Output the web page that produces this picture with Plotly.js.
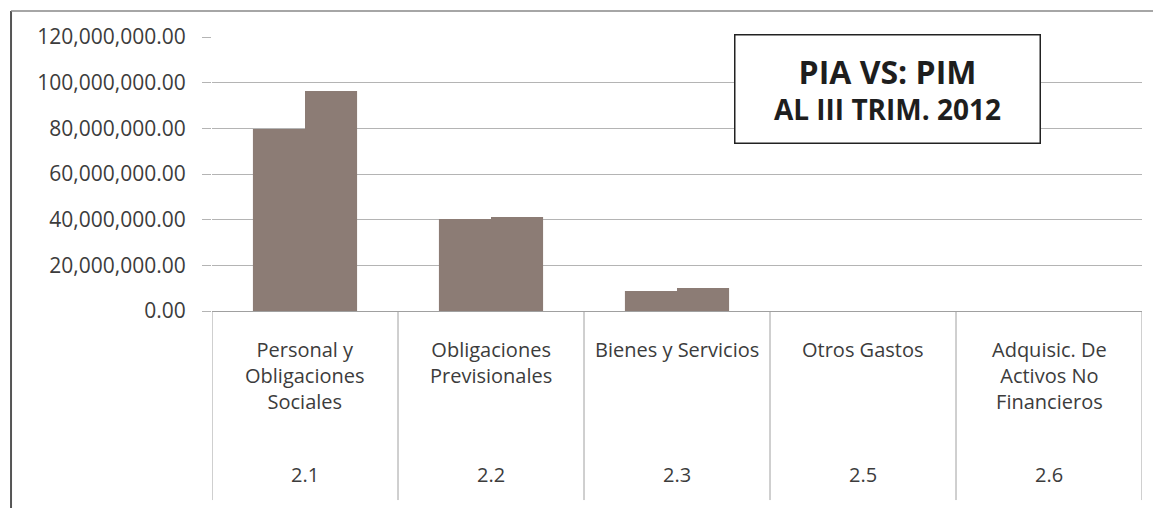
<!DOCTYPE html>
<html>
<head>
<meta charset="utf-8">
<script src="https://cdn.plot.ly/plotly-3.0.1.min.js"></script>
<style>html,body{margin:0;padding:0;background:#fff;}#chart{width:1153px;height:508px;}</style>
</head>
<body>
<div id="chart"></div>
<script>
var categoryNames = ["Personal y<br>Obligaciones<br>Sociales", "Obligaciones<br>Previsionales", "Bienes y Servicios", "Otros Gastos", "Adquisic. De<br>Activos No<br>Financieros"];
var categoryCodes = ["2.1", "2.2", "2.3", "2.5", "2.6"];
var piaValues = [79700000, 40300000, 8800000, 0, 0];
var pimValues = [96400000, 41200000, 10100000, 0, 0];
var yTicks = [0, 20000000, 40000000, 60000000, 80000000, 100000000, 120000000];

var xIdx = categoryCodes.map(function(_, i){ return i; });
var barColor = "rgb(140,124,117)";
var gridColor = "#b4b4b4";
var textColor = "#3c3c3c";
var fontFam = "Open Sans, Lato, sans-serif";

var traces = [
  {type: "bar", name: "PIA", x: xIdx, y: piaValues, marker: {color: barColor}, hoverinfo: "y"},
  {type: "bar", name: "PIM", x: xIdx, y: pimValues, marker: {color: barColor}, hoverinfo: "y"}
];

var shapes = [];
for (var i = 0; i <= categoryCodes.length; i++) {
  shapes.push({type: "line", xref: "x", yref: "paper", x0: i - 0.5, x1: i - 0.5, y0: 0, y1: -0.69,
    line: {color: "#a0a0a0", width: 1}});
}
// outer frame (left and top)
shapes.push({type: "line", xref: "paper", yref: "paper", x0: -0.2161, x1: -0.2161, y0: -0.75, y1: 1.0949,
  line: {color: "#555", width: 2}});
shapes.push({type: "line", xref: "paper", yref: "paper", x0: -0.2161, x1: 1.05, y0: 1.0949, y1: 1.0949,
  line: {color: "#888", width: 1.5}});

var annotations = [];
categoryNames.forEach(function(n, i){
  annotations.push({xref: "x", yref: "paper", x: xIdx[i], y: -0.085, yanchor: "top", xanchor: "center",
    text: n, showarrow: false, align: "center", font: {family: fontFam, size: 20, color: textColor}});
  annotations.push({xref: "x", yref: "paper", x: xIdx[i], y: -0.5985, yanchor: "middle", xanchor: "center",
    text: categoryCodes[i], showarrow: false, font: {family: fontFam, size: 20, color: textColor}});
});
annotations.push({xref: "paper", yref: "paper", x: 0.726, y: 0.81, xanchor: "center", yanchor: "middle",
  text: "<b><span style='font-size:32px'>PIA VS: PIM</span></b><br><b>AL III TRIM. 2012</b>",
  showarrow: false, align: "center", width: 302, height: 105, bgcolor: "#fff",
  bordercolor: "#222", borderwidth: 1.5, borderpad: 1,
  font: {family: fontFam, size: 28, color: "#1e1e1e"}});

var layout = {
  width: 1153, height: 508,
  margin: {l: 212, r: 11, t: 37, b: 197},
  paper_bgcolor: "#fff", plot_bgcolor: "#fff",
  showlegend: false,
  barmode: "group", bargap: 0.44, bargroupgap: 0,
  xaxis: {type: "linear", range: [-0.5, 4.5], showticklabels: false, showgrid: false, zeroline: false,
    showline: true, linecolor: "#a0a0a0", linewidth: 1, ticks: ""},
  yaxis: {range: [0, 120000000], tickvals: yTicks, tickformat: ",.2f", showgrid: true, gridcolor: gridColor,
    gridwidth: 1, zeroline: false, showline: false, ticks: "outside", ticklen: 9, tickcolor: gridColor,
    tickfont: {family: fontFam, size: 21, color: textColor}, ticklabelstandoff: 12},
  shapes: shapes,
  annotations: annotations,
  font: {family: fontFam}
};

Plotly.newPlot("chart", traces, layout, {staticPlot: true, displayModeBar: false});
</script>
</body>
</html>
